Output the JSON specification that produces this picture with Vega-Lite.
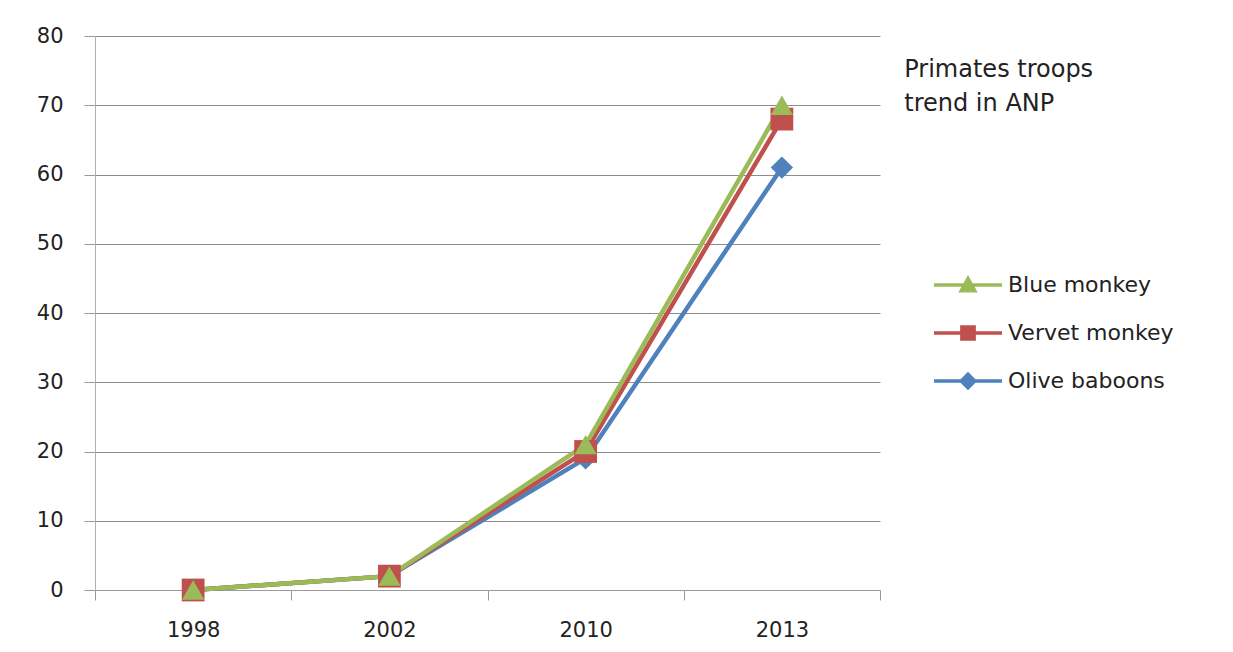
{
  "$schema": "https://vega.github.io/schema/vega-lite/v6.json",
  "width": 785,
  "height": 554,
  "autosize": {"type": "none"},
  "padding": {"left": 95, "top": 36, "right": 353, "bottom": 62},
  "background": "white",
  "config": {"view": {"stroke": null}, "font": "DejaVu Sans"},
  "title": {
    "text": ["Primates troops", "trend  in ANP"],
    "anchor": "start",
    "orient": "top",
    "baseline": "top",
    "offset": 0,
    "dx": 868,
    "dy": 91,
    "fontSize": 24,
    "fontWeight": "normal",
    "color": "#222222",
    "font": "DejaVu Sans",
    "lineHeight": 34,
    "limit": 400
  },
  "data": {
    "values": [
      {"species": "Olive baboons", "year": "1998", "troops": 0},
      {"species": "Olive baboons", "year": "2002", "troops": 2},
      {"species": "Olive baboons", "year": "2010", "troops": 19},
      {"species": "Olive baboons", "year": "2013", "troops": 61},
      {"species": "Vervet monkey", "year": "1998", "troops": 0},
      {"species": "Vervet monkey", "year": "2002", "troops": 2},
      {"species": "Vervet monkey", "year": "2010", "troops": 20},
      {"species": "Vervet monkey", "year": "2013", "troops": 68},
      {"species": "Blue monkey", "year": "1998", "troops": 0},
      {"species": "Blue monkey", "year": "2002", "troops": 2},
      {"species": "Blue monkey", "year": "2010", "troops": 21},
      {"species": "Blue monkey", "year": "2013", "troops": 70}
    ]
  },
  "encoding": {
    "x": {
      "field": "year",
      "type": "nominal",
      "sort": ["1998", "2002", "2010", "2013"],
      "scale": {"type": "band", "paddingInner": 0, "paddingOuter": 0},
      "axis": {
        "title": null,
        "labelAngle": 0,
        "tickBand": "extent",
        "domainColor": "#9a9a9a",
        "tickColor": "#9a9a9a",
        "tickSize": 10,
        "labelFontSize": 21,
        "labelColor": "#222222",
        "labelPadding": 19,
        "grid": false
      }
    },
    "y": {
      "field": "troops",
      "type": "quantitative",
      "scale": {"domain": [0, 80], "nice": false},
      "axis": {
        "title": null,
        "values": [0, 10, 20, 30, 40, 50, 60, 70, 80],
        "grid": true,
        "gridColor": "#8c8c8c",
        "gridWidth": 1,
        "domainColor": "#b0b0b0",
        "tickColor": "#9a9a9a",
        "tickSize": 11,
        "labelPadding": 21,
        "labelFontSize": 21,
        "labelColor": "#222222"
      }
    },
    "color": {
      "field": "species",
      "type": "nominal",
      "scale": {
        "domain": ["Blue monkey", "Vervet monkey", "Olive baboons"],
        "range": ["#9BBB59", "#C0504D", "#4F81BD"]
      },
      "legend": {
        "title": null,
        "orient": "none",
        "legendX": 837,
        "legendY": 225,
        "padding": 0,
        "symbolType": "M-1,0H1",
        "symbolSize": 4624,
        "symbolStrokeWidth": 3,
        "labelFontSize": 22,
        "labelLimit": 300,
        "labelColor": "#222222",
        "labelOffset": 4,
        "clipHeight": 48,
        "rowPadding": 0,
        "encode": {
          "symbols": {
            "update": {
              "shape": {"signal": "datum.value === 'Blue monkey' ? 'M-1,0H1M-0.2,0.17L0,-0.19L0.2,0.17Z' : datum.value === 'Vervet monkey' ? 'M-1,0H1M-0.18,-0.18H0.18V0.18H-0.18Z' : 'M-1,0H1M0,-0.2L0.2,0L0,0.2L-0.2,0Z'"},
              "stroke": {"signal": "datum.value === 'Blue monkey' ? '#9BBB59' : datum.value === 'Vervet monkey' ? '#C0504D' : '#4F81BD'"},
              "fill": {"signal": "datum.value === 'Blue monkey' ? '#9BBB59' : datum.value === 'Vervet monkey' ? '#C0504D' : '#4F81BD'"},
              "size": {"value": 4624},
              "strokeWidth": {"value": 3.5},
              "opacity": {"value": 1}
            }
          }
        }
      }
    }
  },
  "layer": [
    {
      "mark": {"type": "line", "strokeWidth": 4.5}
    },
    {
      "transform": [{"filter": "datum.species === 'Olive baboons'"}],
      "mark": {"type": "point", "filled": true, "size": 500, "opacity": 1, "shape": "diamond"}
    },
    {
      "transform": [{"filter": "datum.species === 'Vervet monkey'"}],
      "mark": {"type": "point", "filled": true, "size": 520, "opacity": 1, "shape": "square"}
    },
    {
      "transform": [{"filter": "datum.species === 'Blue monkey'"}],
      "mark": {"type": "point", "filled": true, "size": 500, "opacity": 1, "shape": "triangle-up"}
    }
  ]
}
